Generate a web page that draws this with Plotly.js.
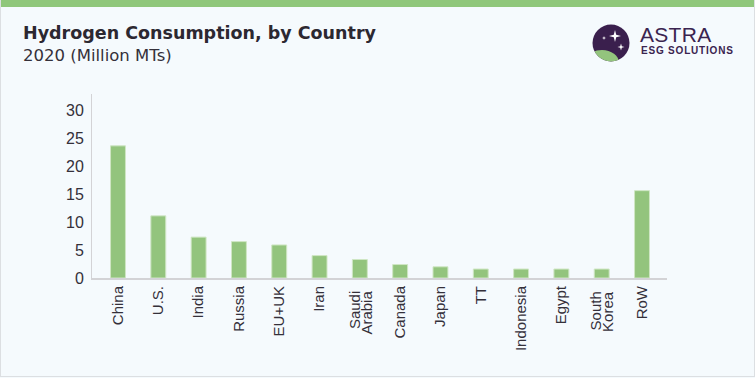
<!DOCTYPE html>
<html>
<head>
<meta charset="utf-8">
<script src="https://cdn.plot.ly/plotly-3.0.1.min.js"></script>
<style>
  html, body { margin:0; padding:0; background:#f5fafd; }
  #wrap { position:relative; width:755px; height:378px; overflow:hidden; }
  #chart { position:absolute; left:0; top:0; width:755px; height:378px; }
  #topbar { position:absolute; left:0; top:0; width:755px; height:7px; background:#8fc77b; }
  #frame { position:absolute; left:0; top:0; width:753px; height:376px; border:1px solid #dcdfe2; border-top:none; pointer-events:none; }
  #logo { position:absolute; left:592px; top:24px; }
  #astra { position:absolute; left:640px; top:23px; font-family:"Liberation Sans", Arial, sans-serif; font-size:21px; color:#3a2450; letter-spacing:0.3px; }
  #esg { position:absolute; left:641px; top:45px; font-family:"Liberation Sans", Arial, sans-serif; font-weight:bold; font-size:10px; color:#3a2450; letter-spacing:0.8px; }
</style>
</head>
<body>
<div id="wrap">
  <div id="chart"></div>
  <div id="topbar"></div>
  <div id="frame"></div>
  <svg id="logo" width="38" height="38" viewBox="0 0 38 38">
    <defs><clipPath id="cc"><circle cx="19" cy="19" r="18.5"/></clipPath></defs>
    <circle cx="19" cy="19" r="18.5" fill="#3a1f4d"/>
    <g clip-path="url(#cc)">
      <ellipse cx="10" cy="39" rx="17" ry="13" fill="#93c47d"/>
    </g>
    <path d="M23 6 L24.2 10.8 L29 12 L24.2 13.2 L23 18 L21.8 13.2 L17 12 L21.8 10.8 Z" fill="#ffffff"/>
    <path d="M29 19.5 L29.8 22.2 L32.5 23 L29.8 23.8 L29 26.5 L28.2 23.8 L25.5 23 L28.2 22.2 Z" fill="#ffffff"/>
    <path d="M12 12 L12.5 13.5 L14 14 L12.5 14.5 L12 16 L11.5 14.5 L10 14 L11.5 13.5 Z" fill="#ffffff"/>
  </svg>
  <div id="astra">ASTRA</div>
  <div id="esg">ESG SOLUTIONS</div>
</div>
<script>
const categories = ["China", "U.S.", "India", "Russia", "EU+UK", "Iran", "Saudi Arabia", "Canada", "Japan", "TT", "Indonesia", "Egypt", "South Korea", "RoW"];
const labelLines = [["China"], ["U.S."], ["India"], ["Russia"], ["EU+UK"], ["Iran"], ["Saudi", "Arabia"], ["Canada"], ["Japan"], ["TT"], ["Indonesia"], ["Egypt"], ["South", "Korea"], ["RoW"]];
const consumption = [23.6, 11.1, 7.3, 6.5, 5.9, 4.0, 3.3, 2.4, 2.0, 1.6, 1.6, 1.6, 1.6, 15.6];
const yTicks = [0, 5, 10, 15, 20, 25, 30];
const titleText = "Hydrogen Consumption, by Country";
const subtitleText = "2020 (Million MTs)";

const L = 92, R = 88, T = 94, B = 100, W = 755, H = 378;
const pw = W - L - R, ph = H - T - B;
const px = x => (x - L) / pw;
const py = y => (H - B - y) / ph;
const xRange = [-0.645, 13.62];
const unitPx = pw / (xRange[1] - xRange[0]);
const lineGap = 11.5; // px between stacked label lines

const labelFont = { family: "Liberation Sans, Arial, sans-serif", size: 15, color: "#34303a" };

const trace = {
  type: "bar",
  x: categories.map((c, i) => i),
  y: consumption,
  width: 0.37,
  marker: { color: "#93c47d", line: { color: "#cfe6c4", width: 1 } },
  hoverinfo: "skip"
};

const annotations = [
  { text: "<b>" + titleText + "</b>", xref: "paper", yref: "paper", x: px(21), y: py(21), xanchor: "left", yanchor: "top", showarrow: false,
    font: { family: "DejaVu Sans, sans-serif", size: 17.5, color: "#2c2831" } },
  { text: subtitleText, xref: "paper", yref: "paper", x: px(21), y: py(44), xanchor: "left", yanchor: "top", showarrow: false,
    font: { family: "DejaVu Sans, sans-serif", size: 16.5, color: "#34303a" } }
];

labelLines.forEach((lines, i) => {
  if (lines.length < 2) return;
  lines.forEach((ln, k) => {
    const off = (k - (lines.length - 1) / 2) * lineGap / unitPx;
    annotations.push({
      text: ln, xref: "x", yref: "paper", x: i + off, y: py(289),
      xanchor: "center", yanchor: "top", textangle: -90, showarrow: false,
      font: labelFont
    });
  });
});

const layout = {
  width: W, height: H,
  margin: { l: L, r: R, t: T, b: B, pad: 0 },
  paper_bgcolor: "rgba(0,0,0,0)",
  plot_bgcolor: "rgba(0,0,0,0)",
  showlegend: false,
  bargap: 0,
  xaxis: {
    range: xRange,
    tickmode: "array",
    tickvals: categories.map((c, i) => i),
    ticktext: labelLines.map(l => l.length > 1 ? "" : l[0]),
    tickangle: -90,
    showgrid: false,
    zeroline: false,
    showline: true,
    linecolor: "#d3d3d6",
    linewidth: 2,
    ticks: "",
    tickfont: labelFont,
    fixedrange: true
  },
  yaxis: {
    range: [0, 32.86],
    tickmode: "array",
    tickvals: yTicks,
    ticktext: yTicks.map(String),
    showgrid: false,
    zeroline: false,
    showline: true,
    linecolor: "#d3d3d6",
    linewidth: 1,
    ticks: "",
    ticklabelstandoff: 4,
    tickfont: { family: "Liberation Sans, Arial, sans-serif", size: 16, color: "#34303a" },
    fixedrange: true
  },
  annotations: annotations
};

Plotly.newPlot("chart", [trace], layout, { staticPlot: true, displayModeBar: false });
</script>
</body>
</html>
